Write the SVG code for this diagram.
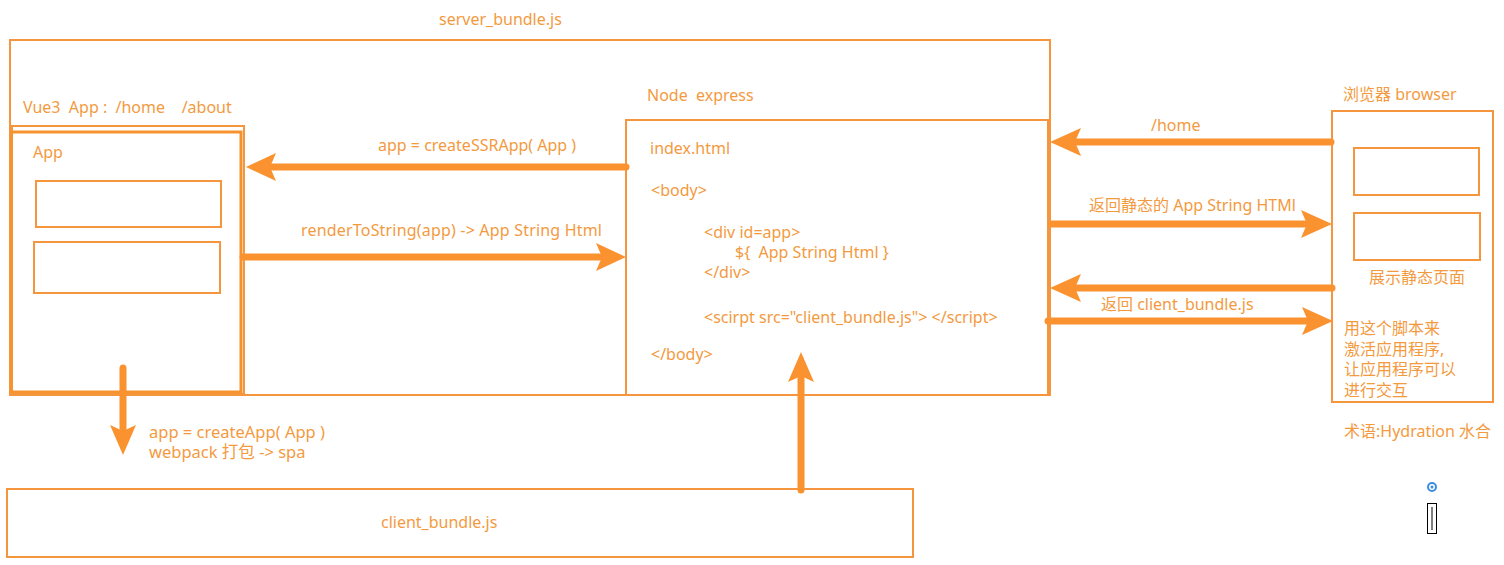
<svg xmlns="http://www.w3.org/2000/svg" width="1504" height="565" viewBox="0 0 1504 565">
<style>
text{font-family:"Noto Sans","Noto Sans CJK SC",sans-serif;font-size:16px;fill:#F39A3F;white-space:pre}
.b{fill:none;stroke:#F5953E;stroke-width:2}
.b3{fill:none;stroke:#F7932F;stroke-width:3}
.c{stroke:#FB9230;stroke-width:7;stroke-linecap:round;fill:none}
.h{fill:#FB9230}
.s{font-size:16.5px}
</style>
<rect width="1504" height="565" fill="#fff"/>
<g id="server">
<rect class="b" x="10" y="40" width="1040" height="355"/>
<text x="439" y="25">server_bundle.js</text>
</g>
<g id="vue-app">
<rect class="b" x="12" y="126" width="232" height="268"/>
<rect class="b3" x="11" y="132" width="230" height="260"/>
<rect class="b" x="36" y="181" width="185" height="46"/>
<rect class="b" x="34" y="242" width="186" height="51"/>
<text x="23" y="113" xml:space="preserve">Vue3  App :  /home    /about</text>
<text x="33" y="158">App</text>
</g>
<g id="node-express">
<rect class="b" x="626" y="120" width="422" height="275"/>
<text x="647" y="101" xml:space="preserve">Node  express</text>
<text x="650" y="154">index.html</text>
<text x="651" y="196">&lt;body&gt;</text>
<text x="704" y="238">&lt;div id=app&gt;</text>
<text x="735" y="258" xml:space="preserve">${  App String Html }</text>
<text x="704" y="278">&lt;/div&gt;</text>
<text x="704" y="323">&lt;scirpt src="client_bundle.js"&gt; &lt;/script&gt;</text>
<text x="651" y="360">&lt;/body&gt;</text>
</g>
<g id="browser">
<rect class="b" x="1332" y="111" width="161" height="291"/>
<rect class="b" x="1354" y="148" width="125" height="47"/>
<rect class="b" x="1354" y="213" width="126" height="47"/>
<text x="1343" y="100">浏览器 browser</text>
<text x="1369" y="283">展示静态页面</text>
<text x="1344" y="334">用这个脚本来</text>
<text x="1344" y="355">激活应用程序,</text>
<text x="1344" y="375">让应用程序可以</text>
<text x="1344" y="396">进行交互</text>
<text x="1344" y="437">术语:Hydration 水合</text>
</g>
<g id="client-bundle">
<rect class="b" x="7" y="489" width="906" height="68"/>
<text x="381" y="528">client_bundle.js</text>
</g>
<g id="connectors">
<line class="c" x1="626" y1="167" x2="270" y2="167"/>
<polygon class="h" points="246,167 276,153 270,167 276,181"/>
<text x="378" y="151">app = createSSRApp( App )</text>
<line class="c" x1="243" y1="257" x2="600" y2="257"/>
<polygon class="h" points="626,257 596,243 602,257 596,271"/>
<text x="301" y="236" textLength="301">renderToString(app) -&gt; App String Html</text>
<line class="c" x1="1331" y1="142" x2="1075" y2="142"/>
<polygon class="h" points="1050,142 1081,128 1075,142 1081,156"/>
<text x="1151" y="131">/home</text>
<line class="c" x1="1052" y1="224" x2="1306" y2="224"/>
<polygon class="h" points="1332,224 1301,210 1307,224 1301,238"/>
<text x="1089" y="211">返回静态的 App String HTMl</text>
<line class="c" x1="1332" y1="288" x2="1075" y2="288"/>
<polygon class="h" points="1050,288 1081,274 1075,288 1081,302"/>
<line class="c" x1="1048" y1="321" x2="1307" y2="321"/>
<polygon class="h" points="1333,321 1302,307 1308,321 1302,335"/>
<text x="1101" y="310">返回 client_bundle.js</text>
<line class="c" x1="123" y1="368" x2="123" y2="430"/>
<polygon class="h" points="123,455 110,425 123,431 136,425"/>
<text x="149" y="438" class="s">app = createApp( App )</text>
<text x="149" y="458" class="s">webpack 打包 -&gt; spa</text>
<line class="c" x1="801" y1="490" x2="801" y2="378"/>
<polygon class="h" points="801,352 788,382 801,376 814,382"/>
</g>
<g id="cursor">
<circle cx="1432" cy="487" r="4" fill="none" stroke="#3C8CE0" stroke-width="2"/>
<circle cx="1432" cy="487" r="1.5" fill="#3C8CE0"/>
<rect x="1427.5" y="503.5" width="9" height="30" fill="#fff" stroke="#000" stroke-width="1"/>
<line x1="1432" y1="507" x2="1432" y2="530" stroke="#000" stroke-width="1"/>
</g>
</svg>
